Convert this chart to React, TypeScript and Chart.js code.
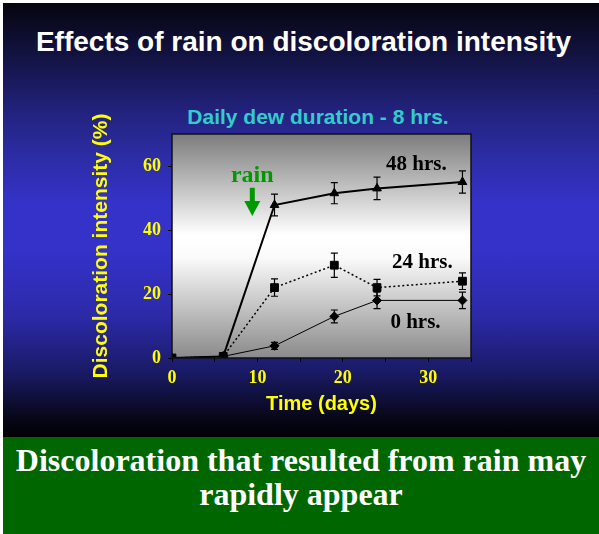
import React, { useEffect, useRef } from "react";
import { Chart, registerables } from "chart.js";
Chart.register(...registerables);

// ---- data ----
const days = [0, 6, 12, 19, 24, 34];
const dew48 = [0, 0.5, 47.8, 51.5, 53, 55];
const dew48Err = [0, 0, 3.4, 3.3, 3.5, 3.5];
const dew24 = [0, 0.5, 22, 29, 22, 24];
const dew24Err = [0, 0, 2.7, 3.8, 2.6, 2.6];
const dew0 = [0, 0.5, 3.8, 13, 18, 18];
const dew0Err = [0, 0, 1.1, 2, 2.6, 2.6];

const seriesLabels = ["48 hrs.", "24 hrs.", "0 hrs."];
const labelDays = [28.6, 29.3, 28.5];
const labelValues = [60.6, 29.7, 11];

const rainText = "rain";
const rainDay = 9.4;
const rainTextValue = 57;
const rainArrowFrom = 53.2;
const rainArrowTo = 44.4;

const xTicks = [0, 5, 10, 15, 20, 25, 30, 35];
const xLabelled = [0, 10, 20, 30];
const yTicks = [0, 20, 40, 60];

const titleText = "Effects of rain on discoloration intensity";
const subtitleText = "Daily dew duration - 8 hrs.";
const xTitle = "Time (days)";
const yTitle = "Discoloration intensity (%)";
const bottomLines = ["Discoloration that resulted from rain may", "rapidly appear"];

const errors = [dew48Err, dew24Err, dew0Err];

const decorPlugin = {
  id: "decor",
  beforeDatasetsDraw(chart: any) {
    const { ctx, chartArea: a, scales } = chart;
    ctx.save();
    const g = ctx.createLinearGradient(0, a.top, 0, a.bottom);
    g.addColorStop(0, "#7c7c7c");
    g.addColorStop(0.45, "#ffffff");
    g.addColorStop(0.55, "#fbfbfb");
    g.addColorStop(1, "#8a8a8a");
    ctx.fillStyle = g;
    ctx.fillRect(a.left, a.top, a.right - a.left, a.bottom - a.top);
    // error bars
    ctx.strokeStyle = "#000";
    ctx.lineWidth = 1.2;
    chart.data.datasets.forEach((ds: any) => {
      const err = errors[ds.errIndex];
      ds.data.forEach((p: any, j: number) => {
        const e = err[j];
        if (!e) return;
        const x = scales.x.getPixelForValue(p.x);
        const y1 = scales.y.getPixelForValue(p.y + e);
        const y2 = scales.y.getPixelForValue(p.y - e);
        ctx.beginPath();
        ctx.moveTo(x, y1);
        ctx.lineTo(x, y2);
        ctx.moveTo(x - 3.5, y1);
        ctx.lineTo(x + 3.5, y1);
        ctx.moveTo(x - 3.5, y2);
        ctx.lineTo(x + 3.5, y2);
        ctx.stroke();
      });
    });
    ctx.restore();
  },
  afterDatasetsDraw(chart: any) {
    const { ctx, chartArea: a, scales } = chart;
    ctx.save();
    ctx.strokeStyle = "#111";
    ctx.lineWidth = 1.5;
    ctx.strokeRect(a.left, a.top, a.right - a.left, a.bottom - a.top);
    ctx.fillStyle = "#000";
    ctx.font = "bold 21px 'Liberation Serif'";
    ctx.textAlign = "center";
    ctx.textBaseline = "middle";
    seriesLabels.forEach((t, i) => {
      ctx.fillText(t, scales.x.getPixelForValue(labelDays[i]), scales.y.getPixelForValue(labelValues[i]));
    });
    ctx.fillStyle = "#009900";
    ctx.font = "bold 24px 'Liberation Serif'";
    const rx = scales.x.getPixelForValue(rainDay);
    ctx.fillText(rainText, rx, scales.y.getPixelForValue(rainTextValue));
    const ay1 = scales.y.getPixelForValue(rainArrowFrom);
    const ay2 = scales.y.getPixelForValue(rainArrowTo);
    const headH = 15;
    ctx.fillRect(rx - 2.5, ay1, 5, ay2 - ay1 - headH + 1);
    ctx.beginPath();
    ctx.moveTo(rx - 8, ay2 - headH);
    ctx.lineTo(rx + 8, ay2 - headH);
    ctx.lineTo(rx, ay2);
    ctx.closePath();
    ctx.fill();
    ctx.restore();
  },
};

export default function App() {
  const ref = useRef<HTMLCanvasElement>(null);
  useEffect(() => {
    const toPts = (ys: number[]) => days.map((d, i) => ({ x: d, y: ys[i] }));
    const chart = new Chart(ref.current!, {
      type: "scatter",
      data: {
        datasets: [
          {
            label: seriesLabels[0],
            data: toPts(dew48),
            showLine: true,
            borderColor: "#000",
            backgroundColor: "#000",
            borderWidth: 2,
            pointStyle: "triangle",
            pointRadius: 5,
            pointBorderWidth: 1,
            order: 2,
            errIndex: 0,
          } as any,
          {
            label: seriesLabels[1],
            data: toPts(dew24),
            showLine: true,
            borderColor: "#000",
            backgroundColor: "#000",
            borderWidth: 1.5,
            borderDash: [2, 2.5],
            pointStyle: "rect",
            pointRadius: 5.5,
            pointBorderWidth: 1,
            order: 0,
            errIndex: 1,
          } as any,
          {
            label: seriesLabels[2],
            data: toPts(dew0),
            showLine: true,
            borderColor: "#000",
            backgroundColor: "#000",
            borderWidth: 1,
            pointStyle: "rectRot",
            pointRadius: 4.5,
            pointBorderWidth: 1,
            order: 1,
            errIndex: 2,
          } as any,
        ],
      },
      options: {
        animation: false,
        responsive: false,
        layout: { padding: { left: 85, right: 128, top: 134, bottom: 114 } },
        plugins: { legend: { display: false }, tooltip: { enabled: false } },
        scales: {
          x: {
            type: "linear",
            min: 0,
            max: 35,
            afterBuildTicks: (s: any) => {
              s.ticks = xTicks.map((v) => ({ value: v }));
            },
            afterFit: (s: any) => {
              s.height = 62;
            },
            grid: { display: true, drawOnChartArea: false, tickLength: 4, color: "#000" },
            border: { display: false },
            ticks: {
              padding: 6,
              color: "#ffff00",
              font: { family: "'Liberation Serif'", weight: "bold", size: 18 },
              maxRotation: 0,
              callback: (v: any) => (xLabelled.includes(Number(v)) ? String(v) : ""),
            },
            title: {
              display: true,
              text: xTitle,
              color: "#ffff00",
              font: { family: "'Liberation Sans'", weight: "bold", size: 20 },
            },
          },
          y: {
            type: "linear",
            min: 0,
            max: 70,
            afterBuildTicks: (s: any) => {
              s.ticks = yTicks.map((v) => ({ value: v }));
            },
            afterFit: (s: any) => {
              s.width = 87;
            },
            grid: { display: true, drawOnChartArea: false, tickLength: 4, color: "#000" },
            border: { display: false },
            ticks: {
              padding: 7,
              color: "#ffff00",
              font: { family: "'Liberation Serif'", weight: "bold", size: 18 },
            },
            title: {
              display: true,
              text: yTitle,
              color: "#ffff00",
              font: { family: "'Liberation Sans'", weight: "bold", size: 21 },
            },
          },
        },
      },
      plugins: [decorPlugin],
    } as any);
    return () => chart.destroy();
  }, []);

  return (
    <div style={{ position: "absolute", left: 0, top: 0, width: 599, height: 534, background: "#fff", overflow: "hidden" }}>
      <div
        style={{
          position: "absolute",
          left: 3,
          top: 3,
          width: 596,
          height: 434,
          background:
            "linear-gradient(to bottom, #05050f 0%, #16164f 15%, #22227e 25%, #2c2ca4 35%, #3432c8 46%, #3432c8 57%, #2c2aa8 72%, #1a1a66 85%, #08081c 95%, #000003 100%)",
        }}
      />
      <div style={{ position: "absolute", left: 3, top: 437, width: 596, height: 97, background: "#006600" }} />
      <div
        style={{
          position: "absolute",
          left: 0,
          width: 599,
          top: 26,
          height: 32,
          lineHeight: "32px",
          textAlign: "center",
          color: "#fff",
          fontFamily: "'Liberation Sans'",
          fontWeight: "bold",
          fontSize: 28,
          paddingLeft: 8,
          boxSizing: "border-box",
        }}
      >
        {titleText}
      </div>
      <div
        style={{
          position: "absolute",
          left: 218,
          width: 200,
          top: 104,
          height: 26,
          lineHeight: "26px",
          textAlign: "center",
          whiteSpace: "nowrap",
          display: "flex",
          justifyContent: "center",
          color: "#33cccc",
          fontFamily: "'Liberation Sans'",
          fontWeight: "bold",
          fontSize: 21,
        }}
      >
        {subtitleText}
      </div>
      <div
        style={{
          position: "absolute",
          left: 3,
          width: 596,
          top: 443,
          textAlign: "center",
          color: "#fff",
          fontFamily: "'Liberation Serif'",
          fontWeight: "bold",
          fontSize: 32,
          lineHeight: "34px",
        }}
      >
        {bottomLines.map((l, i) => (
          <div key={i}>{l}</div>
        ))}
      </div>
      <canvas ref={ref} width={599} height={534} style={{ position: "absolute", left: 0, top: 0, width: 599, height: 534 }} />
    </div>
  );
}
